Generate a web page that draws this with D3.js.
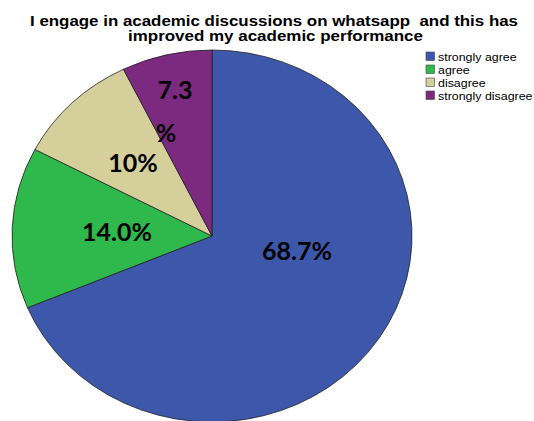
<!DOCTYPE html>
<html>
<head>
<meta charset="utf-8">
<script src="https://cdn.jsdelivr.net/npm/d3@7"></script>
<style>
  body { margin: 0; background: #fff; }
  svg { display: block; }
</style>
</head>
<body>
<svg width="534" height="421"></svg>
<script>
var WIDTH = 534;
var HEIGHT = 421;

// data
var categories = ['strongly agree', 'agree', 'disagree', 'strongly disagree'];
var percents = [68.7, 14.0, 10.0, 7.3];
var sliceLabels = [['68.7%'], ['14.0%'], ['10%'], ['7.3', '%']];
var titleLines = ['I engage in academic discussions on whatsapp\u00a0 and this has', 'improved my academic performance'];

var colors = ['#3d58ab', '#2fb84b', '#d5cf9b', '#7b2a80'];

// layout
var cx = 212, cy = 236, radius = 200, squash = 0.93;
// where SPSS dropped each label (relative to pie centre)
var labelOffsets = [[85, 15], [-95, -4], [-79, -73], [-37, -146]];
var titleWidths = [488, 295];
var titleCentres = [274, 275.5];

var svg = d3.select('svg')
    .attr('width', WIDTH)
    .attr('height', HEIGHT);

var colorScale = d3.scaleOrdinal().domain(categories).range(colors);

var pie = d3.pie()
    .value(function(d) { return d.value; })
    .sort(null);

var arc = d3.arc()
    .innerRadius(0)
    .outerRadius(radius);

var dataset = categories.map(function(c, i) {
    return { label: c, value: percents[i], text: sliceLabels[i] };
});

var pieG = svg.append('g')
    .attr('transform', 'translate(' + cx + ',' + cy + ') scale(1,' + squash + ')');

pieG.selectAll('path')
    .data(pie(dataset))
    .enter()
    .append('path')
    .attr('d', arc)
    .attr('fill', function(d) { return colorScale(d.data.label); })
    .attr('stroke', '#222')
    .attr('stroke-width', 0.8)
    .attr('vector-effect', 'non-scaling-stroke');

// slice labels
var labelG = svg.append('g').attr('transform', 'translate(' + cx + ',' + cy + ')');
labelG.selectAll('text')
    .data(pie(dataset))
    .enter()
    .append('text')
    .attr('text-anchor', 'middle')
    .attr('font-family', 'Lato, "Open Sans", sans-serif')
    .attr('font-weight', 'bold')
    .attr('font-size', '25px')
    .attr('fill', '#000')
    .each(function(d, i) {
        var t = d3.select(this);
        var lines = d.data.text;
        var off = labelOffsets[i];
        lines.forEach(function(line, j) {
            t.append('tspan')
                .attr('x', i === 3 && j === 1 ? off[0] - 9 : off[0])
                .attr('y', off[1] + 9 + j * 43)
                .text(line);
        });
    });

// title (the original is a little stretched sideways)
svg.append('g').selectAll('text')
    .data(titleLines)
    .enter()
    .append('text')
    .attr('x', function(d, i) { return titleCentres[i]; })
    .attr('y', function(d, i) { return 25.5 + i * 15.5; })
    .attr('text-anchor', 'middle')
    .attr('textLength', function(d, i) { return titleWidths[i]; })
    .attr('lengthAdjust', 'spacingAndGlyphs')
    .attr('font-family', '"Liberation Sans", Arial, sans-serif')
    .attr('font-weight', 'bold')
    .attr('font-size', '15px')
    .attr('fill', '#000')
    .text(function(d) { return d; });

// legend
var legend = svg.append('g').attr('transform', 'translate(426,52)');
var rows = legend.selectAll('g')
    .data(categories)
    .enter()
    .append('g')
    .attr('transform', function(d, i) { return 'translate(0,' + (i * 13) + ')'; });

rows.append('rect')
    .attr('width', 8.5)
    .attr('height', 8.5)
    .attr('fill', function(d) { return colorScale(d); })
    .attr('stroke', '#444')
    .attr('stroke-width', 0.6);

rows.append('text')
    .attr('transform', 'translate(12,8.5) scale(1.13,1)')
    .attr('font-family', '"Liberation Sans", Arial, sans-serif')
    .attr('font-size', '11px')
    .attr('fill', '#000')
    .text(function(d) { return d; });
</script>
</body>
</html>
